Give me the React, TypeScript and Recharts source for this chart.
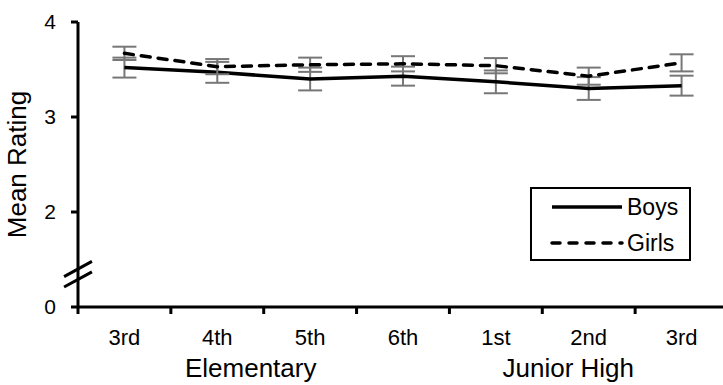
import { ErrorBar, Line, LineChart, ReferenceLine, XAxis, YAxis } from "recharts";

const categories = ["3rd", "4th", "5th", "6th", "1st", "2nd", "3rd"];
const boys = [3.52, 3.47, 3.4, 3.43, 3.37, 3.3, 3.33];
const boysErr = [0.105, 0.11, 0.12, 0.1, 0.12, 0.12, 0.105];
const girls = [3.67, 3.53, 3.55, 3.56, 3.54, 3.43, 3.57];
const girlsErr = [0.07, 0.08, 0.075, 0.08, 0.08, 0.09, 0.09];
const groups = ["Elementary", "Junior High"];
const groupPos = [1.86, 5.28];
const yTicks = [1, 2, 3, 4];
const yTickLabels = ["0", "2", "3", "4"];

// axis break marks (data space: x in category units, y in display units)
const breakMarks = [
  [{ x: -0.15, y: 1.32 }, { x: 0.15, y: 1.48 }],
  [{ x: -0.15, y: 1.21 }, { x: 0.15, y: 1.37 }],
];

const font = "Arial, 'Liberation Sans', sans-serif";

const data = categories.map((c, i) => ({
  x: i + 0.5,
  name: c,
  boys: boys[i],
  boysErr: boysErr[i],
  girls: girls[i],
  girlsErr: girlsErr[i],
}));

const xTicks: number[] = [];
for (let i = 0; i <= categories.length; i++) {
  xTicks.push(i);
  if (i < categories.length) xTicks.push(i + 0.5);
}
xTicks.push(...groupPos);

function XTick(props: any) {
  const { x, y, payload } = props;
  const v = payload.value;
  const gi = groupPos.indexOf(v);
  if (gi >= 0) {
    return (
      <text x={x} y={y + 70} textAnchor="middle" fontSize={26} fontFamily={font} fill="#000">
        {groups[gi]}
      </text>
    );
  }
  if (Number.isInteger(v)) {
    return <line x1={x} x2={x} y1={y} y2={y + 7} stroke="#000" strokeWidth={3} />;
  }
  return (
    <text x={x} y={y + 38} textAnchor="middle" fontSize={22} fontFamily={font} fill="#000">
      {categories[Math.floor(v)]}
    </text>
  );
}

function LegendBox() {
  return (
    <div
      style={{
        position: "absolute",
        left: 530,
        top: 187,
        width: 157,
        height: 70,
        border: "2px solid #000",
        background: "#fff",
        fontFamily: font,
      }}
    >
      <svg width={157} height={70} style={{ display: "block" }}>
        <line x1={20} x2={90} y1={18} y2={18} stroke="#000" strokeWidth={3.5} />
        <line x1={20} x2={90} y1={54} y2={54} stroke="#000" strokeWidth={3.5} strokeDasharray="8 9" strokeLinecap="round" />
        <text x={95} y={26} fontSize={23} fill="#000">Boys</text>
        <text x={95} y={62} fontSize={23} fill="#000">Girls</text>
      </svg>
    </div>
  );
}

export default function App() {
  return (
    <div style={{ width: 723, height: 385, overflow: "hidden", position: "relative", background: "#fff" }}>
      <style>{`body{margin:0}`}</style>
      <LineChart width={730} height={385} data={data} margin={{ top: 22, right: 2, left: 0, bottom: 0 }}>
        <XAxis
          dataKey="x"
          type="number"
          domain={[0, categories.length]}
          ticks={xTicks}
          interval={0}
          tick={<XTick />}
          tickLine={false}
          tickSize={0}
          tickMargin={0}
          height={78}
          axisLine={{ stroke: "#000", strokeWidth: 3 }}
        />
        <YAxis
          type="number"
          domain={[1, 4]}
          ticks={yTicks}
          interval={0}
          width={78}
          tickSize={7}
          tickMargin={15}
          tickFormatter={(v: number) => yTickLabels[yTicks.indexOf(v)]}
          tick={{ fill: "#000", fontSize: 21, fontFamily: font }}
          tickLine={{ stroke: "#000", strokeWidth: 3 }}
          axisLine={{ stroke: "#000", strokeWidth: 3 }}
          label={{
            value: "Mean Rating",
            angle: -90,
            position: "insideLeft",
            dx: 12,
            style: { textAnchor: "middle", fontSize: 26, fontFamily: font, fill: "#000" },
          }}
        />
        {breakMarks.map((seg, i) => (
          <ReferenceLine key={i} segment={seg} stroke="#000" strokeWidth={3} ifOverflow="visible" />
        ))}
        <Line dataKey="boys" stroke="#000" strokeWidth={3.5} dot={false} isAnimationActive={false}>
          <ErrorBar dataKey="boysErr" direction="y" width={12} stroke="#777" strokeWidth={2} isAnimationActive={false} />
        </Line>
        <Line
          dataKey="girls"
          stroke="#000"
          strokeWidth={3.5}
          strokeDasharray="9 8"
          strokeLinecap="round"
          dot={false}
          isAnimationActive={false}
        >
          <ErrorBar dataKey="girlsErr" direction="y" width={12} stroke="#777" strokeWidth={2} isAnimationActive={false} />
        </Line>
      </LineChart>
      <LegendBox />
    </div>
  );
}
